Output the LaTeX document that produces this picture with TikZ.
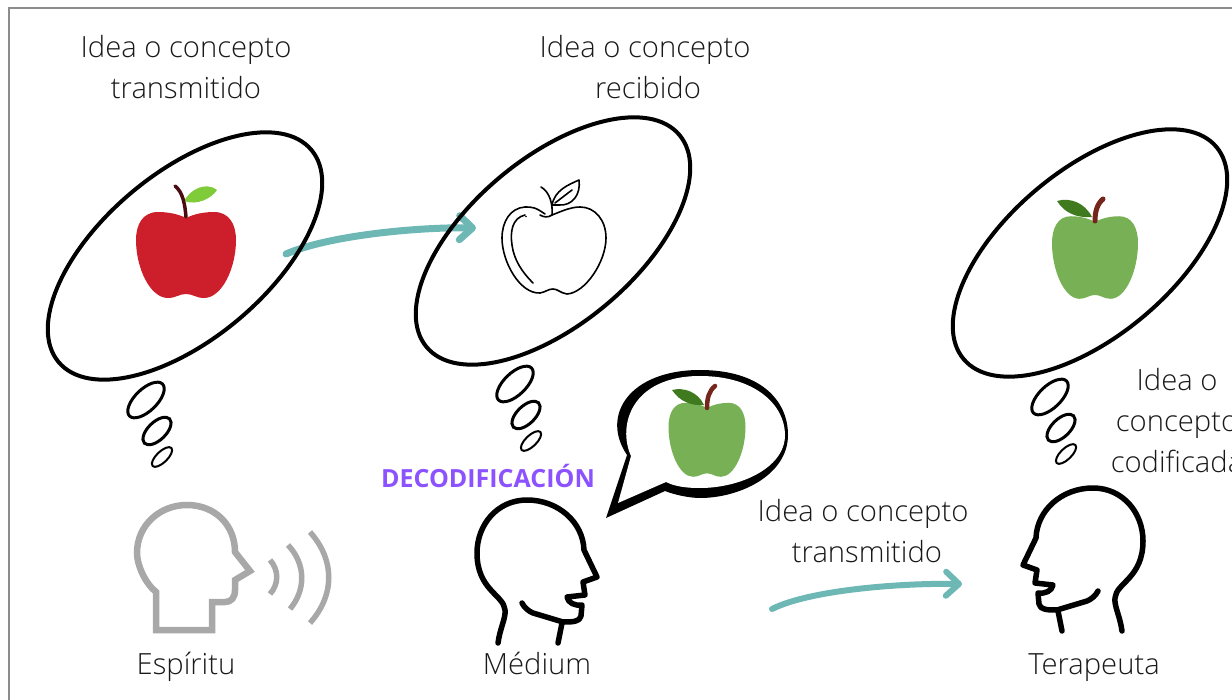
\documentclass[tikz,border=0pt]{standalone}
\usepackage{fontspec}
\setmainfont{Open Sans Light}[BoldFont={Open Sans Bold}]
\usetikzlibrary{arrows.meta,positioning}
\definecolor{tealline}{HTML}{6DB7B5}
\definecolor{framegray}{HTML}{8C8C8C}
\definecolor{headgray}{HTML}{A8A8A8}
\definecolor{applered}{HTML}{CC1F2B}
\definecolor{stemdark}{HTML}{4A0C10}
\definecolor{leaflight}{HTML}{7FCB3A}
\definecolor{applegreen}{HTML}{78B155}
\definecolor{leafdark}{HTML}{3F7A1E}
\definecolor{stembrown}{HTML}{74261A}
\definecolor{decopurple}{HTML}{8C52FF}
\tikzset{
  textlabel/.style={font=\fontsize{29.2}{41}\selectfont,text=black!90,align=center},
  namelabel/.style={textlabel,anchor=base},
  bigbubble/.style={draw=black,line width=4pt},
  flowline/.style={draw=tealline,line cap=round,line join=round,
                   -{Straight Barb[length=13pt,width=24pt,round]}},
  headline/.style={draw=black,line width=5.5pt,line cap=round,line join=round},
  applebody/.pic={
    \fill (0,0) .. controls (-8,-4) and (-18,-6) .. (-28,-6)
    .. controls (-43,-6) and (-50,6) .. (-50,22)
    .. controls (-50,50) and (-36,80) .. (-18,80)
    .. controls (-10,80) and (-7,76) .. (0,76)
    .. controls (7,76) and (10,80) .. (18,80)
    .. controls (36,80) and (50,50) .. (50,22)
    .. controls (50,6) and (43,-6) .. (28,-6)
    .. controls (18,-6) and (8,-4) .. (0,0) -- cycle;
  },
  thoughtdots/.pic={
    \draw[line width=3pt,rotate around={44:(146,400)}] (146,400) ellipse [x radius=23,y radius=11];
    \draw[line width=3pt,rotate around={44:(157,431)}] (157,431) ellipse [x radius=17.5,y radius=9];
    \draw[line width=2pt,rotate around={44:(162,457)}] (162,457) ellipse [x radius=13,y radius=5.5];
  },
  medhead/.pic={
    \draw[headline] (498,643) .. controls (500,628) and (506,618) .. (505,610)
    .. controls (504,595) and (477,590) .. (477,553)
    .. controls (477,525) and (497,500) .. (527,500)
    .. controls (558,500) and (583,522) .. (584,550)
    -- (597,577) -- (583,582) -- (585,595) -- (567,597)
    .. controls (568,603) and (575,606) .. (582,605)
    -- (581,616) .. controls (580,622) and (572,622) .. (563,622)
    -- (533,613) .. controls (528,611) and (524,607) .. (522,603);
    \draw[headline] (562,623) -- (558,643);
  }
}
\begin{document}
\begin{tikzpicture}[x=1pt,y=-1pt]
  \useasboundingbox (0,0) rectangle (1232,700);
  \clip (0,0) rectangle (1232,700);

  % Outer frame.
  \draw[framegray,line width=2pt] (9,720) -- (9,8) -- (1250,8);

  % Teal arrows go under the bubbles.
  \coordinate (arrowa) at (286,254);
  \coordinate (arrowb) at (476,228);
  \coordinate (arrowc) at (772,609);
  \coordinate (arrowd) at (962,584);
  \draw[flowline,line width=7pt] (arrowa) .. controls (330,235) and (420,227) .. (arrowb);
  \draw[flowline,line width=6pt] (arrowc) .. controls (810,590) and (900,583) .. (arrowd);

  % Thought bubbles.
  \draw[bigbubble,rotate around={40:(185,256)}] (185,256) ellipse [x radius=165,y radius=83];
  \draw[bigbubble,rotate around={40:(553,241)}] (553,241) ellipse [x radius=165,y radius=83];
  \draw[bigbubble,rotate around={40:(1090,253)}] (1090,253) ellipse [x radius=165,y radius=83];
  \pic at (0,0) {thoughtdots};
  \pic at (369,-16) {thoughtdots};
  \pic at (904,-3) {thoughtdots};

  % Red apple.
  \pic[fill=applered] at (186,218) {applebody};
  \fill[leaflight] (184,201) .. controls (190,190) and (205,181) .. (217,190)
  .. controls (212,198) and (197,206) .. (184,201) -- cycle;
  \draw[stemdark,line width=3.5pt,line cap=round] (175,186) .. controls (183,192) and (185,205) .. (186,217);

  % Outline apple.
  \begin{scope}[line width=1.6pt,line cap=round,line join=round]
    \draw (545,214) .. controls (535,207) and (532,207) .. (525,207)
    .. controls (510,208) and (502,222) .. (502,238)
    .. controls (502,262) and (520,294) .. (540,293)
    .. controls (546,292) and (548,289) .. (553,289)
    .. controls (558,289) and (560,293) .. (567,294)
    .. controls (585,293) and (606,262) .. (606,238)
    .. controls (606,220) and (595,207) .. (580,207)
    .. controls (570,207) and (560,212) .. (552,215)
    .. controls (548,218) and (543,217) .. (540,215);
    \draw (525,215) .. controls (512,218) and (510,232) .. (512,245)
    .. controls (514,260) and (522,272) .. (533,283);
    \draw (552,215) .. controls (553,205) and (550,192) .. (541,187);
    \draw (552,205) .. controls (555,190) and (568,185) .. (579,180)
    .. controls (581,195) and (572,206) .. (559,205) -- (552,205);
    \draw (555,203) -- (572,190);
    \fill (526,216.5) circle (0.8pt);
  \end{scope}

  % Green apples.
  \pic[xscale=.86,yscale=.96,fill=applegreen] at (1095,222) {applebody};
  \fill[leafdark] (1057,201) .. controls (1070,197) and (1085,203) .. (1092,217)
  .. controls (1078,218) and (1065,214) .. (1057,201) -- cycle;
  \draw[stembrown,line width=5pt,line cap=round] (1103,199) .. controls (1097,204) and (1095,212) .. (1095,221);

  % Speech bubble.
  \fill[black] (606,518) -- (627,455) .. controls (600,415) and (630,370) .. (700,370)
  .. controls (760,370) and (788,400) .. (788,435)
  .. controls (788,475) and (740,498) .. (700,498)
  .. controls (690,498) and (675,495) .. (665,491) -- cycle;
  \fill[white] (618,503) -- (631,456) .. controls (617,425) and (632,376) .. (700,376)
  .. controls (755,376) and (785,405) .. (785,435)
  .. controls (785,468) and (740,488) .. (700,488)
  .. controls (688,488) and (676,487) .. (666,482) -- cycle;
  \pic[xscale=.77,yscale=.86,fill=applegreen] at (707,408) {applebody};
  \fill[leafdark] (672,390) .. controls (684,387) and (698,392) .. (704,405)
  .. controls (692,406) and (680,402) .. (672,390) -- cycle;
  \draw[stembrown,line width=4.5pt,line cap=round] (715,386) .. controls (709,391) and (707,398) .. (707,408);

  % Grey speaker.
  \draw[headgray,line width=6.5pt,miter limit=10] (156,630) -- (156,592)
  .. controls (145,583) and (137,565) .. (137,553)
  .. controls (137,525) and (160,505) .. (187,505)
  .. controls (215,505) and (235,525) .. (235,552)
  -- (250,571) -- (235,580) -- (235,590) .. controls (235,598) and (231,602) .. (225,602)
  -- (212,602) -- (212,630) -- cycle;
  \begin{scope}[headgray,line width=5.5pt]
    \draw (270,560) .. controls (279,570) and (279,584) .. (270,594);
    \draw (288,545) .. controls (306,564) and (306,590) .. (290,609);
    \draw (310,532) .. controls (335,560) and (335,595) .. (310,623);
  \end{scope}

  % Black heads.
  \pic at (0,0) {medhead};
  \pic[xscale=-1] at (1620,-12) {medhead};

  % Labels.
  \node[textlabel] (ideaa) at (186,67) {Idea o concepto\\transmitido};
  \node[textlabel] (ideab) at (645,67) {Idea o concepto\\\hspace*{6pt}recibido};
  \node[textlabel] (ideac) at (863,531) {Idea o concepto\\\hspace*{8pt}transmitido};
  \node[textlabel] (idead) at (1177,421) {Idea o\\concepto\hspace*{9pt}\\codificada};
  \node[namelabel] (espiritu) at (186,674) {Espíritu};
  \node[namelabel] (medium) at (537,674) {Médium};
  \node[namelabel] (terapeuta) at (1094,674) {Terapeuta};
  \node[decopurple,font=\fontsize{25}{30}\selectfont\bfseries] (deco) at (488,476) {DECODIFICACIÓN};
\end{tikzpicture}
\end{document}
